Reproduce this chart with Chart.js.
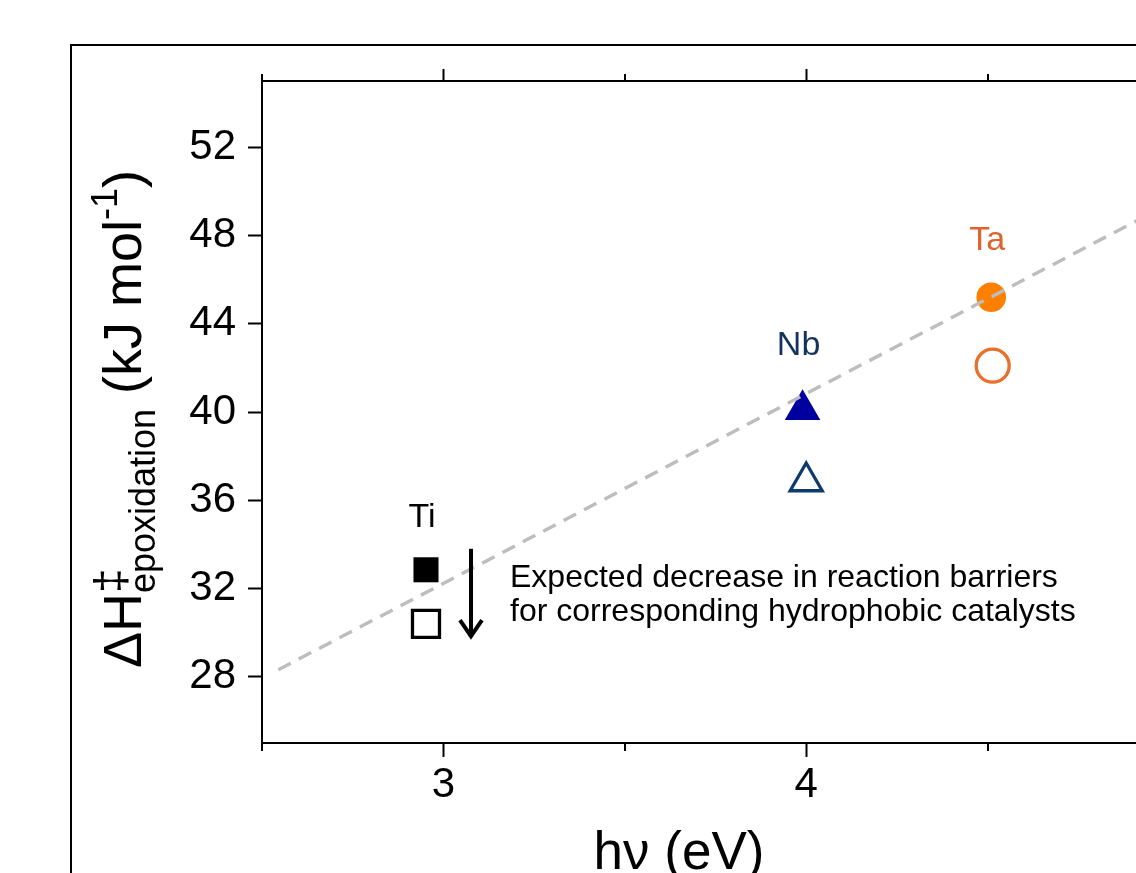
<!DOCTYPE html>
<html><head><meta charset="utf-8">
<style>html,body{margin:0;padding:0;overflow:hidden;background:#fff}#wrap{width:1200px;height:873px;position:relative}</style>
<script src="https://cdn.jsdelivr.net/npm/chart.js@4/dist/chart.umd.min.js"></script>
</head><body><div id="wrap"><canvas id="c" width="1200" height="873"></canvas></div>
<script>
// ---- data ----
const metals = ['Ti', 'Nb', 'Ta'];
const gapFilled = [2.952, 3.99, 4.51];
const barrierFilled = [32.85, 40.1, 45.2];
const gapOpen = [2.952, 4.0, 4.514];
const barrierOpen = [30.4, 36.85, 42.1];
const fitX = [2.545, 5.0];
const fitY = [28.32, 49.43];
const xMajorTicks = [3, 4, 5];
const xMinorTicks = [2.5, 3.5, 4.5];
const yTicks = [28, 32, 36, 40, 44, 48, 52];
const arrowX = 3.076;
const arrowFrom = 33.8;
const arrowTo = 29.75;
const noteLines = ['Expected decrease in reaction barriers', 'for corresponding hydrophobic catalysts'];

const FONT = "'Liberation Sans', Arial, Helvetica, sans-serif";
const filledColors = ['#000000', '#0000A0', '#FF8000'];
const openColors = ['#000000', '#0F3A6E', '#E8702A'];
const labelColors = ['#000000', '#15325E', '#E0622C'];
const styles = ['rect', 'triangle', 'circle'];

const extras = {
  id: 'extras',
  beforeDraw(chart) {
    const ctx = chart.ctx;
    ctx.save();
    ctx.strokeStyle = '#000'; ctx.lineWidth = 2;
    ctx.strokeRect(71, 45, 3000, 3000);
    ctx.restore();
  },
  afterDraw(chart) {
    const ctx = chart.ctx;
    const xs = chart.scales.x, ys = chart.scales.y, xt = chart.scales.x2;
    ctx.save();
    // minor ticks
    ctx.strokeStyle = '#000'; ctx.lineWidth = 2;
    xMinorTicks.forEach(v => {
      const px = Math.round(xs.getPixelForValue(v));
      ctx.beginPath(); ctx.moveTo(px, xs.top); ctx.lineTo(px, xs.top + 8); ctx.stroke();
      ctx.beginPath(); ctx.moveTo(px, xt.bottom); ctx.lineTo(px, xt.bottom - 7); ctx.stroke();
    });
    // metal labels
    ctx.font = '34px ' + FONT;
    ctx.textAlign = 'center'; ctx.textBaseline = 'middle';
    const lblOff = [-52, -64, -57];
    metals.forEach((m, i) => {
      ctx.fillStyle = labelColors[i];
      ctx.fillText(m, xs.getPixelForValue(gapFilled[i]) - 4, ys.getPixelForValue(barrierFilled[i]) + lblOff[i]);
    });
    // arrow
    const ax = xs.getPixelForValue(arrowX);
    const ay1 = ys.getPixelForValue(arrowFrom), ay2 = ys.getPixelForValue(arrowTo);
    ctx.strokeStyle = '#000'; ctx.lineWidth = 4; ctx.lineCap = 'butt';
    ctx.beginPath(); ctx.moveTo(ax, ay1); ctx.lineTo(ax, ay2 - 2); ctx.stroke();
    ctx.lineJoin = 'miter';
    ctx.beginPath(); ctx.moveTo(ax - 11, ay2 - 18); ctx.lineTo(ax, ay2 - 2); ctx.lineTo(ax + 11, ay2 - 18); ctx.stroke();
    // note text
    ctx.fillStyle = '#000'; ctx.font = '32px ' + FONT;
    ctx.textAlign = 'left'; ctx.textBaseline = 'alphabetic';
    ctx.fillText(noteLines[0], 510, 587);
    ctx.fillText(noteLines[1], 510, 621);
    // x title
    ctx.font = '53px ' + FONT; ctx.textAlign = 'center';
    ctx.fillText('hν (eV)', 679, 869);
    // y title (rich text)
    const F = 54, s = 36;
    const segs = [
      {t: 'ΔH', size: F, dy: 0},
      {t: '‡', size: 44, dy: -0.3 * F, noAdv: true},
      {t: 'epoxidation', size: s, dy: 0.26 * F},
      {t: ' (kJ mol', size: F, dy: 0},
      {t: '-1', size: s, dy: -0.44 * F},
      {t: ')', size: F, dy: 0}
    ];
    let total = 0;
    segs.forEach(sg => { ctx.font = sg.size + 'px ' + FONT; sg.w = ctx.measureText(sg.t).width; if (!sg.noAdv) total += sg.w; });
    const cy = 419, baseX = 141;
    ctx.translate(baseX, cy + total / 2);
    ctx.rotate(-Math.PI / 2);
    ctx.textAlign = 'left'; ctx.textBaseline = 'alphabetic';
    let cx = 0;
    segs.forEach(sg => {
      ctx.font = sg.size + 'px ' + FONT;
      ctx.fillText(sg.t, cx, sg.dy);
      if (!sg.noAdv) cx += sg.w;
    });
    ctx.restore();
  }
};

const filledPts = gapFilled.map((x, i) => ({x, y: barrierFilled[i]}));
const openPts = gapOpen.map((x, i) => ({x, y: barrierOpen[i]}));
const fitPts = fitX.map((x, i) => ({x, y: fitY[i]}));

new Chart(document.getElementById('c'), {
  type: 'scatter',
  data: {
    datasets: [
      {label: 'fit', data: fitPts, showLine: true, borderColor: '#BDBDBD', borderWidth: 3.4,
       borderDash: [14, 9], pointRadius: 0, order: 0, fill: false},
      {label: 'filled', data: filledPts, pointStyle: styles, pointRadius: [17.7, 20.5, 14.8],
       backgroundColor: filledColors, borderWidth: 0, borderColor: filledColors, order: 1},
      {label: 'open', data: openPts, pointStyle: styles, pointRadius: [19.1, 18.5, 16.5],
       backgroundColor: 'rgba(0,0,0,0)', borderColor: openColors, borderWidth: 3.3, order: 1}
    ]
  },
  options: {
    responsive: false, animation: false, devicePixelRatio: 1,
    layout: {padding: {left: 0, top: 0, right: 31, bottom: 0}},
    plugins: {legend: {display: false}, tooltip: {enabled: false}},
    scales: {
      x: {
        type: 'linear', position: 'bottom', min: 2.5, max: 5.0,
        afterBuildTicks: sc => { sc.ticks = xMajorTicks.map(v => ({value: v})); },
        afterFit: sc => { sc.height = 130; },
        ticks: {color: '#000', font: {size: 42, family: FONT}, padding: 3, maxRotation: 0,
                callback: v => String(v)},
        grid: {drawOnChartArea: false, drawTicks: true, tickLength: 14, tickWidth: 2, tickColor: '#000'},
        border: {display: true, color: '#000', width: 2}
      },
      x2: {
        type: 'linear', position: 'top', min: 2.5, max: 5.0,
        afterBuildTicks: sc => { sc.ticks = xMajorTicks.map(v => ({value: v})); },
        afterFit: sc => { sc.height = 81; },
        ticks: {display: false},
        grid: {drawOnChartArea: false, drawTicks: true, tickLength: 12, tickWidth: 2, tickColor: '#000'},
        border: {display: true, color: '#000', width: 2}
      },
      y: {
        type: 'linear', position: 'left', min: 25, max: 55,
        afterBuildTicks: sc => { sc.ticks = yTicks.map(v => ({value: v})); },
        afterFit: sc => { sc.width = 262; },
        ticks: {color: '#000', font: {size: 42, family: FONT}, padding: 12, callback: v => String(v)},
        grid: {drawOnChartArea: false, drawTicks: true, tickLength: 14, tickWidth: 2, tickColor: '#000'},
        border: {display: true, color: '#000', width: 2}
      }
    }
  },
  plugins: [extras]
});
</script>
</body></html>
